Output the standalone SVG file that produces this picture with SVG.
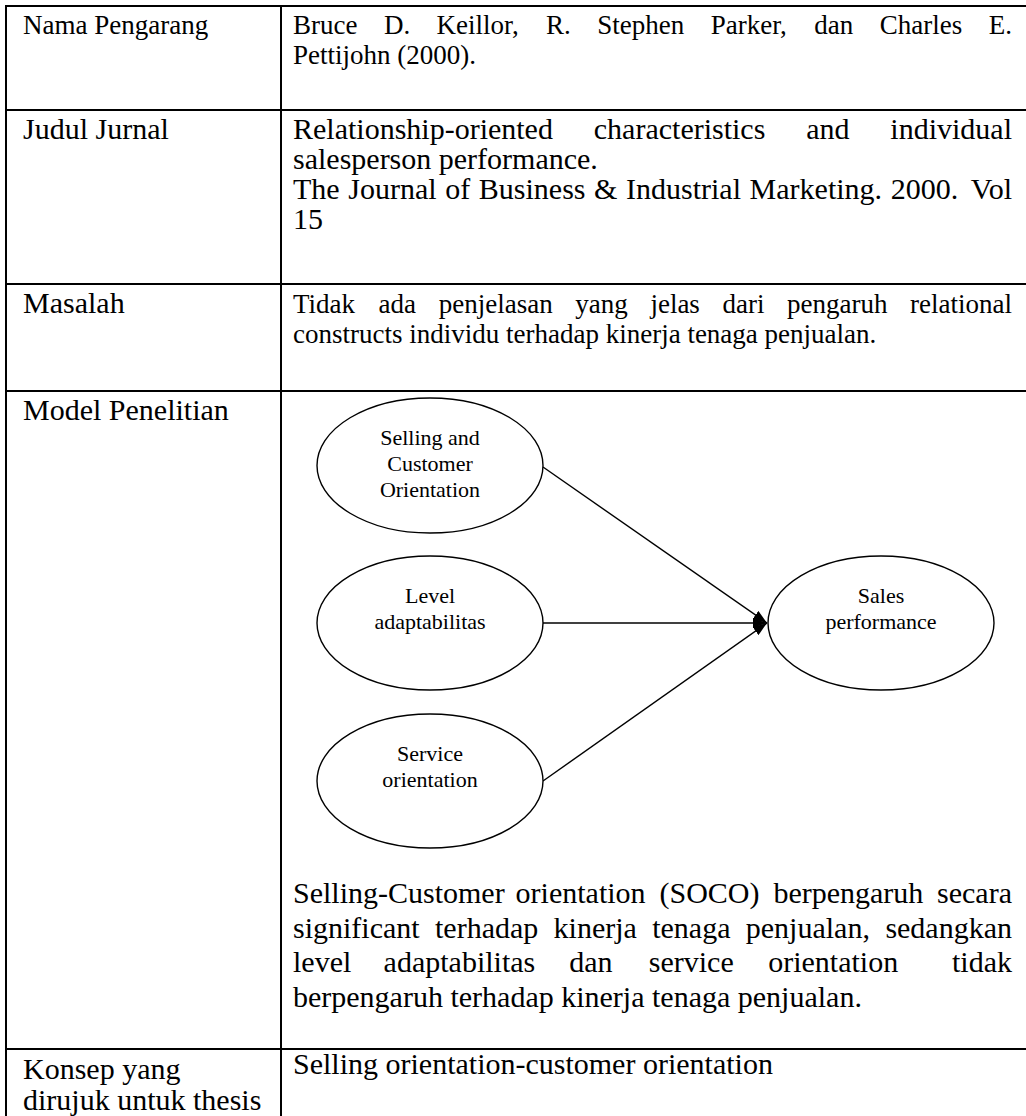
<svg xmlns="http://www.w3.org/2000/svg" width="1026" height="1116" viewBox="0 0 1026 1116">
  <defs>
    <style>
      text { font-family: "Liberation Serif", "Times New Roman", serif; fill: #000; }
      .s27 { font-size: 27px; }
      .s30 { font-size: 30px; }
      .lbl { font-size: 22px; text-anchor: middle; }
      .end { text-anchor: end; }
      .grid { stroke: #000; stroke-width: 2; fill: none; }
      .node { fill: #fff; stroke: #000; stroke-width: 1.4; }
      .edge { stroke: #000; stroke-width: 1.4; fill: none; marker-end: url(#arrow); }
    </style>
    <marker id="arrow" markerUnits="userSpaceOnUse" viewBox="0 0 14 10" refX="14" refY="5" markerWidth="14" markerHeight="10" orient="auto">
      <path d="M0,0 L14,5 L0,10 z" fill="#000"/>
    </marker>
  </defs>
  <rect width="1026" height="1116" fill="#fff"/>

  <!-- table rules -->
  <g id="table-grid" class="grid">
    <line x1="6" y1="6" x2="1026" y2="6"/>
    <line x1="6" y1="110" x2="1026" y2="110"/>
    <line x1="6" y1="284" x2="1026" y2="284"/>
    <line x1="6" y1="391" x2="1026" y2="391"/>
    <line x1="6" y1="1049" x2="1026" y2="1049"/>
    <line x1="6" y1="5" x2="6" y2="1116"/>
    <line x1="281" y1="5" x2="281" y2="1116"/>
  </g>

  <!-- row: author -->
  <g id="row-author" class="s27">
    <text x="23" y="34">Nama Pengarang</text>
    <text y="34"><tspan x="293">Bruce</tspan><tspan x="383.9">D.</tspan><tspan x="436.5">Keillor,</tspan><tspan x="546.1">R.</tspan><tspan x="597.3">Stephen</tspan><tspan x="710.7">Parker,</tspan><tspan x="814.3">dan</tspan><tspan x="879.7">Charles</tspan></text>
    <text class="end" x="1012" y="34">E.</text>
    <text x="293" y="64">Pettijohn (2000).</text>
  </g>

  <!-- row: journal title -->
  <g id="row-title" class="s30">
    <text x="23" y="139">Judul Jurnal</text>
    <text y="139"><tspan x="293">Relationship-oriented</tspan><tspan x="593.8">characteristics</tspan><tspan x="806.2">and</tspan></text>
    <text class="end" x="1012" y="139">individual</text>
    <text x="293" y="169">salesperson performance.</text>
    <text y="199"><tspan x="293">The</tspan><tspan x="348.3">Journal</tspan><tspan x="445.2">of</tspan><tspan x="478.8">Business</tspan><tspan x="594.1">&amp;</tspan><tspan x="626">Industrial</tspan><tspan x="749.6">Marketing.</tspan><tspan x="890.7">2000.</tspan></text>
    <text class="end" x="1012" y="199">Vol</text>
    <text x="293" y="229">15</text>
  </g>

  <!-- row: problem -->
  <g id="row-problem" class="s27">
    <text class="s30" x="23" y="313">Masalah</text>
    <text y="313"><tspan x="293">Tidak</tspan><tspan x="378.6">ada</tspan><tspan x="438.7">penjelasan</tspan><tspan x="575.3">yang</tspan><tspan x="650.4">jelas</tspan><tspan x="722.5">dari</tspan><tspan x="787.1">pengaruh</tspan></text>
    <text class="end" x="1012" y="313">relational</text>
    <text x="293" y="343">constructs individu terhadap kinerja tenaga penjualan.</text>
  </g>

  <!-- row: research model -->
  <g id="row-model" class="s30">
    <text x="23" y="420">Model Penelitian</text>
  </g>

  <!-- connectors -->
  <g id="connectors">
    <line class="edge" x1="543" y1="467" x2="767" y2="623"/>
    <line class="edge" x1="543" y1="623" x2="767" y2="623"/>
    <line class="edge" x1="543" y1="781" x2="767" y2="623"/>
  </g>

  <g id="node-soco">
    <ellipse class="node" cx="430" cy="465.5" rx="113" ry="67.5"/>
    <text class="lbl" x="430" y="445">Selling and</text>
    <text class="lbl" x="430" y="471">Customer</text>
    <text class="lbl" x="430" y="497">Orientation</text>
  </g>
  <g id="node-adaptability">
    <ellipse class="node" cx="430" cy="623" rx="113" ry="67"/>
    <text class="lbl" x="430" y="603">Level</text>
    <text class="lbl" x="430" y="629">adaptabilitas</text>
  </g>
  <g id="node-service">
    <ellipse class="node" cx="430" cy="781" rx="113" ry="67"/>
    <text class="lbl" x="430" y="761">Service</text>
    <text class="lbl" x="430" y="787">orientation</text>
  </g>
  <g id="node-sales">
    <ellipse class="node" cx="881" cy="623" rx="113" ry="67"/>
    <text class="lbl" x="881" y="603">Sales</text>
    <text class="lbl" x="881" y="629">performance</text>
  </g>

  <!-- findings paragraph -->
  <g id="findings" class="s30">
    <text y="903"><tspan x="293">Selling-Customer</tspan><tspan x="515.6">orientation</tspan><tspan x="659.5">(SOCO)</tspan><tspan x="773.4">berpengaruh</tspan></text>
    <text class="end" x="1012" y="903">secara</text>
    <text y="937.5"><tspan x="293">significant</tspan><tspan x="435">terhadap</tspan><tspan x="553.6">kinerja</tspan><tspan x="652.2">tenaga</tspan><tspan x="745.8">penjualan,</tspan></text>
    <text class="end" x="1012" y="937.5">sedangkan</text>
    <text y="972"><tspan x="293">level</tspan><tspan x="383.6">adaptabilitas</tspan><tspan x="569.2">dan</tspan><tspan x="648.8">service</tspan><tspan x="768.2">orientation</tspan></text>
    <text class="end" x="1012" y="972">tidak</text>
    <text x="293" y="1006.5">berpengaruh terhadap kinerja tenaga penjualan.</text>
  </g>

  <!-- row: concept -->
  <g id="row-concept" class="s30">
    <text x="23" y="1079">Konsep yang</text>
    <text x="23" y="1110">dirujuk untuk thesis</text>
    <text x="293" y="1074">Selling orientation-customer orientation</text>
  </g>
</svg>
